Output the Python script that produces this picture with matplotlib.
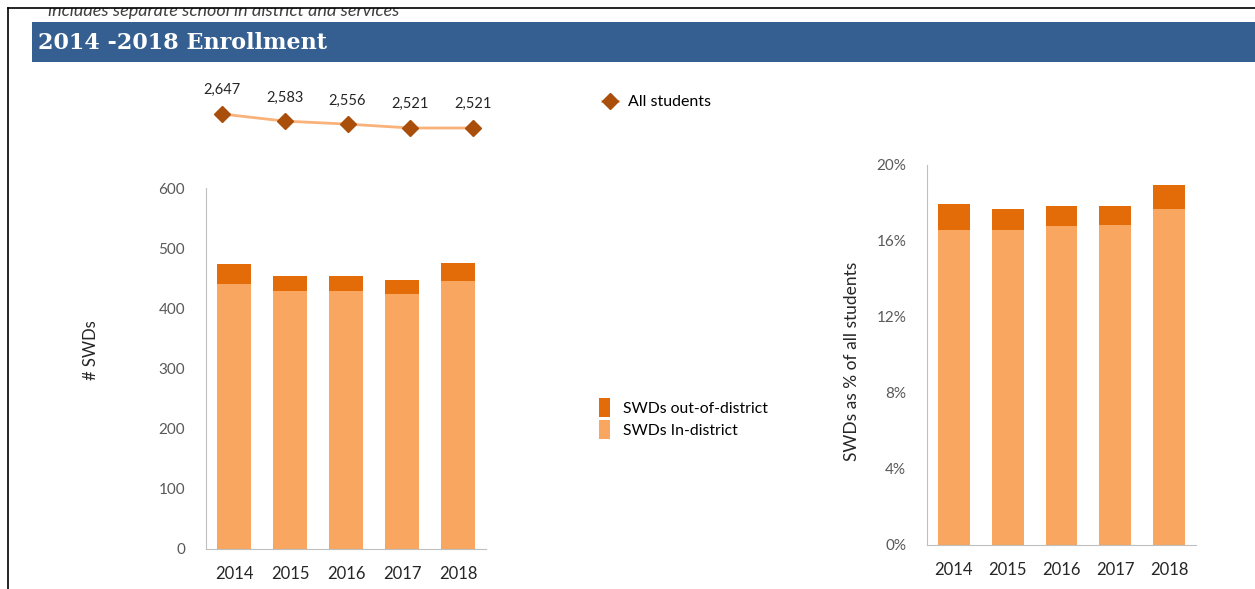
import matplotlib.pyplot as plt
from matplotlib.patches import Rectangle
from matplotlib.lines import Line2D
from matplotlib.ticker import FuncFormatter

years = ['2014', '2015', '2016', '2017', '2018']
all_students = [2647, 2583, 2556, 2521, 2521]
swd_in = [440, 428, 428, 423, 445]
swd_out = [33, 26, 26, 24, 31]
pct_in = [16.6, 16.6, 16.77, 16.84, 17.68]
pct_out = [1.33, 1.08, 1.07, 1.0, 1.25]

W, H = 1255, 589
c_in = '#F8A660'
c_out = '#E36C09'
c_line = '#F9B27A'
c_mark = '#A94F0B'
grey_ax = '#BFBFBF'
plt.rcParams['font.family'] = ['Lato', 'DejaVu Sans']


def rect(x0, y0, x1, y1):
    # pixel box -> figure fraction
    return [x0 / W, 1 - y1 / H, (x1 - x0) / W, (y1 - y0) / H]


fig = plt.figure(figsize=(W / 100, H / 100), dpi=100)
fig.patch.set_facecolor('white')

# clipped note at the very top
fig.text(48 / W, 1 - 16 / H, 'includes separate school in district and services',
         style='italic', fontsize=13, color='#404040', va='baseline')
fig.add_artist(Rectangle((0, 1 - 8 / H), 1, 8 / H, transform=fig.transFigure,
                         facecolor='white', edgecolor='none', zorder=5))
fig.add_artist(Line2D([8 / W, 1], [1 - 8 / H, 1 - 8 / H], transform=fig.transFigure,
                      color='black', lw=1.2, zorder=6))
fig.add_artist(Line2D([8 / W, 8 / W], [0, 1 - 8 / H], transform=fig.transFigure,
                      color='black', lw=1.2, zorder=6))

# header bar
fig.add_artist(Rectangle((32 / W, 1 - 62 / H), 1 - 32 / W, 40 / H,
                         transform=fig.transFigure, facecolor='#365F91', edgecolor='none'))
fig.text(38 / W, 1 - 43 / H, '2014 -2018 Enrollment', family='DejaVu Serif',
         fontweight='bold', fontsize=16, color='white', va='center')

x = range(len(years))

# all students line
axl = fig.add_axes(rect(190.6, 80, 504.4, 140))
axl.plot(x, all_students, color=c_line, lw=2, marker='D', ms=8,
         mfc=c_mark, mec=c_mark, label='All students')
for i, v in enumerate(all_students):
    axl.annotate(f'{v:,}', (i, v), xytext=(0, 12), textcoords='offset points',
                 ha='center', va='bottom', fontsize=10.5, color='#262626')
axl.set_xlim(-0.5, 4.5)
axl.set_ylim(2413, 2953)
axl.axis('off')
axl.legend(loc='center left', bbox_to_anchor=((596 - 190.6) / 313.8, (140 - 102) / 60),
           frameon=False, fontsize=11.5, handlelength=1.0, handletextpad=0.6,
           borderaxespad=0)

# SWD counts
ax1 = fig.add_axes(rect(206, 188, 486, 549))
b1 = ax1.bar(x, swd_in, width=0.59, color=c_in, label='SWDs In-district')
b2 = ax1.bar(x, swd_out, bottom=swd_in, width=0.59, color=c_out,
             label='SWDs out-of-district')
ax1.set_xlim(-0.5, 4.5)
ax1.set_ylim(0, 600)
ax1.set_yticks(range(0, 601, 100))
ax1.set_xticks(list(x))
ax1.set_xticklabels(years)
ax1.set_ylabel('# SWDs', fontsize=12, color='#262626')
ax1.yaxis.set_label_coords((99 - 206) / 280, 0.551)

# SWD share
ax2 = fig.add_axes(rect(927, 165, 1196, 545))
ax2.bar(x, pct_in, width=0.59, color=c_in)
ax2.bar(x, pct_out, bottom=pct_in, width=0.59, color=c_out)
ax2.set_xlim(-0.5, 4.5)
ax2.set_ylim(0, 20)
ax2.set_yticks(range(0, 21, 4))
ax2.yaxis.set_major_formatter(FuncFormatter(lambda v, p: f'{v:.0f}%'))
ax2.set_xticks(list(x))
ax2.set_xticklabels(years)
ax2.set_ylabel('SWDs as % of all students', fontsize=12.5, color='#262626')
ax2.yaxis.set_label_coords((860 - 927) / 269, 0.482)

for ax in (ax1, ax2):
    for s in ('top', 'right'):
        ax.spines[s].set_visible(False)
    for s in ('left', 'bottom'):
        ax.spines[s].set_color(grey_ax)
    ax.tick_params(length=0)
    ax.tick_params(axis='y', labelsize=11, labelcolor='#595959', pad=15)
    ax.tick_params(axis='x', labelsize=12, labelcolor='#262626', pad=12)

fig.legend([b2, b1], ['SWDs out-of-district', 'SWDs In-district'],
           loc='upper left', bbox_to_anchor=(593 / W, 1 - 392 / H), frameon=False,
           fontsize=11.3, handlelength=0.7, handleheight=1.5, handletextpad=0.8,
           labelspacing=0.15, borderaxespad=0)

fig.savefig('out.png', dpi=100)
